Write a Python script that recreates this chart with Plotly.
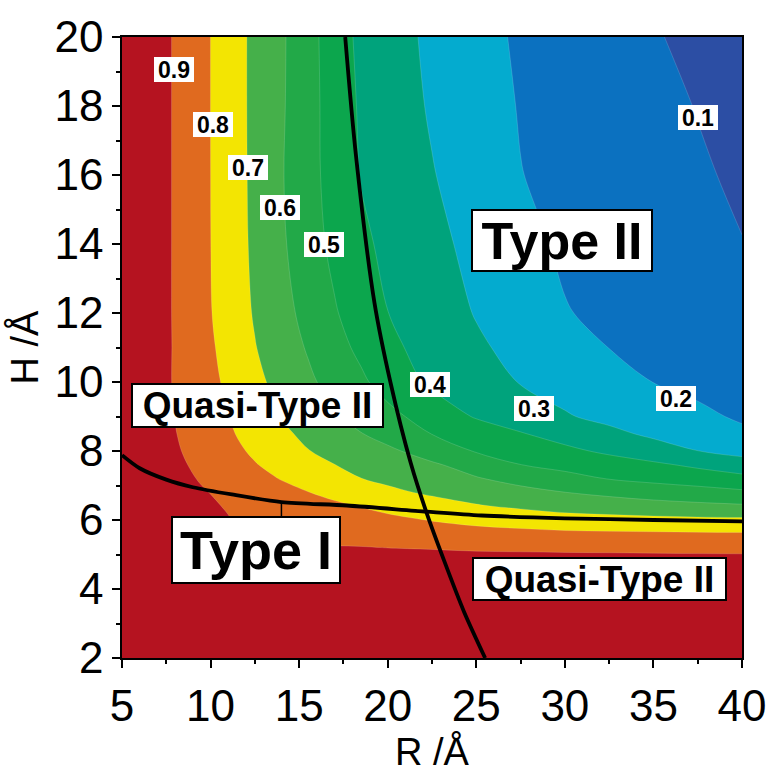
import plotly.graph_objects as go

# ---------------- data ----------------
R_vals = [5, 6.5, 8, 9.5, 11, 12.5, 14, 15.5, 17, 18.5, 20, 22.5, 25, 27.5, 30, 32.5, 35, 37.5, 40]
H_vals = [2, 4, 4.8, 5.2, 5.6, 6.0, 6.4, 6.8, 7.2, 7.6, 8, 8.5, 9, 10, 11, 12, 14, 16, 18, 20]

z_H2   = [0.98, 0.98, 0.97, 0.97, 0.97, 0.97, 0.97, 0.97, 0.96, 0.96, 0.96, 0.96, 0.96, 0.96, 0.96, 0.96, 0.96, 0.96, 0.96]
z_H4   = [0.98, 0.97, 0.97, 0.96, 0.96, 0.96, 0.96, 0.95, 0.95, 0.95, 0.95, 0.95, 0.95, 0.95, 0.95, 0.95, 0.95, 0.95, 0.95]
z_H48  = [0.98, 0.97, 0.96, 0.955, 0.95, 0.94, 0.93, 0.93, 0.93, 0.935, 0.94, 0.938, 0.937, 0.936, 0.935, 0.935, 0.935, 0.935, 0.935]
z_H52  = [0.98, 0.96, 0.95, 0.94, 0.93, 0.915, 0.906, 0.905, 0.904, 0.903, 0.899, 0.894, 0.887, 0.884, 0.881, 0.879, 0.876, 0.873, 0.871]
z_H56  = [0.98, 0.965, 0.945, 0.93, 0.915, 0.898, 0.884, 0.877, 0.874, 0.867, 0.86, 0.844, 0.833, 0.826, 0.819, 0.815, 0.813, 0.81, 0.808]
z_H60  = [0.98, 0.945, 0.93, 0.917, 0.903, 0.877, 0.863, 0.853, 0.844, 0.833, 0.82, 0.796, 0.775, 0.758, 0.739, 0.733, 0.726, 0.721, 0.719]
z_H64  = [0.98, 0.953, 0.934, 0.914, 0.895, 0.875, 0.856, 0.836, 0.817, 0.797, 0.776, 0.742, 0.708, 0.686, 0.665, 0.649, 0.637, 0.624, 0.614]
z_H68  = [0.98, 0.96, 0.933, 0.907, 0.881, 0.854, 0.828, 0.802, 0.775, 0.748, 0.721, 0.685, 0.657, 0.628, 0.601, 0.579, 0.555, 0.538, 0.517]
z_H72  = [0.98, 0.959, 0.926, 0.893, 0.861, 0.828, 0.796, 0.764, 0.732, 0.701, 0.679, 0.643, 0.607, 0.569, 0.531, 0.496, 0.474, 0.453, 0.431]
z_H76  = [0.98, 0.955, 0.918, 0.88, 0.843, 0.805, 0.77, 0.735, 0.701, 0.676, 0.652, 0.613, 0.56, 0.501, 0.472, 0.444, 0.417, 0.382, 0.338]
z_H80  = [0.98, 0.951, 0.91, 0.868, 0.827, 0.786, 0.744, 0.703, 0.674, 0.646, 0.619, 0.557, 0.493, 0.457, 0.421, 0.383, 0.342, 0.301, 0.274]
z_H85  = [0.98, 0.948, 0.903, 0.858, 0.812, 0.766, 0.719, 0.678, 0.64, 0.603, 0.563, 0.498, 0.452, 0.406, 0.363, 0.322, 0.283, 0.249, 0.214]
z_H90  = [0.98, 0.946, 0.898, 0.851, 0.803, 0.75, 0.697, 0.654, 0.611, 0.569, 0.528, 0.457, 0.392, 0.35, 0.308, 0.276, 0.246, 0.216, 0.19]
z_H10  = [0.98, 0.946, 0.893, 0.839, 0.784, 0.724, 0.669, 0.617, 0.567, 0.517, 0.46, 0.382, 0.339, 0.296, 0.264, 0.231, 0.199, 0.18, 0.161]
z_H11  = [0.98, 0.957, 0.892, 0.832, 0.77, 0.704, 0.648, 0.592, 0.535, 0.478, 0.422, 0.363, 0.314, 0.273, 0.235, 0.199, 0.181, 0.163, 0.145]
z_H12  = [0.98, 0.957, 0.891, 0.826, 0.759, 0.692, 0.632, 0.571, 0.508, 0.454, 0.401, 0.347, 0.295, 0.249, 0.204, 0.184, 0.166, 0.148, 0.13]
z_H14  = [0.98, 0.957, 0.891, 0.824, 0.754, 0.682, 0.614, 0.543, 0.477, 0.419, 0.379, 0.326, 0.273, 0.222, 0.188, 0.167, 0.145, 0.124, 0.102]
z_H16  = [0.98, 0.957, 0.891, 0.824, 0.752, 0.679, 0.607, 0.534, 0.462, 0.395, 0.361, 0.305, 0.253, 0.202, 0.178, 0.155, 0.133, 0.11, 0.087]
z_H18  = [0.98, 0.957, 0.891, 0.824, 0.751, 0.678, 0.611, 0.536, 0.456, 0.388, 0.35, 0.29, 0.24, 0.195, 0.171, 0.146, 0.122, 0.097, 0.073]
z_H20  = [0.98, 0.957, 0.891, 0.824, 0.751, 0.678, 0.613, 0.537, 0.447, 0.379, 0.341, 0.281, 0.229, 0.188, 0.161, 0.134, 0.107, 0.079, 0.052]

Z = [z_H2, z_H4, z_H48, z_H52, z_H56, z_H60, z_H64, z_H68, z_H72, z_H76, z_H80,
     z_H85, z_H90, z_H10, z_H11, z_H12, z_H14, z_H16, z_H18, z_H20]

# boundary lines (black)
sepA_R = [17.6, 18.2, 19.25, 20.15, 21.3, 22.2, 23.2, 24.3, 25.5]
sepA_H = [20.0, 16.6, 12.3, 10.0, 7.65, 6.2, 4.8, 3.35, 2.0]
sepB_R = [5, 6, 7.5, 9, 11.2, 14, 17.7, 22.2, 25.3, 30, 35, 40]
sepB_H = [7.88, 7.5, 7.17, 6.95, 6.74, 6.52, 6.42, 6.24, 6.13, 6.05, 6.0, 5.96]
tickmark_R = [14, 14]
tickmark_H = [6.55, 6.08]

# contour level labels
lvl_text = ["0.9", "0.8", "0.7", "0.6", "0.5", "0.4", "0.3", "0.2", "0.1"]
lvl_R = [7.96, 10.14, 12.1, 13.92, 16.4, 22.36, 28.25, 36.25, 37.53]
lvl_H = [19.07, 17.46, 16.22, 15.05, 13.98, 9.94, 9.22, 9.51, 17.67]

# region labels
reg_text = ["Quasi-Type II", "Type I", "Type II", "Quasi-Type II"]
reg_R = [12.63, 12.55, 29.82, 31.97]
reg_H = [9.31, 5.13, 14.1, 4.30]

x_ticks = [5, 10, 15, 20, 25, 30, 35, 40]
y_ticks = [2, 4, 6, 8, 10, 12, 14, 16, 18, 20]

# ---------------- styling ----------------
band_colors = ['#2c4ea4', '#0b71c0', '#04abcf', '#00a37c', '#0ca64d',
               '#22a948', '#45b04a', '#f3e502', '#e06a1f', '#b51320']
cscale = []
for i, c in enumerate(band_colors):
    cscale.append([i / 10, c])
    cscale.append([(i + 1) / 10, c])

FONT = "Liberation Sans"

fig = go.Figure()
fig.add_trace(go.Contour(
    x=R_vals, y=H_vals, z=Z,
    zmin=0, zmax=1, colorscale=cscale, showscale=False,
    contours=dict(start=0.1, end=0.9, size=0.1, coloring='fill', showlines=True),
    line=dict(width=0.6, color='rgba(255,255,255,0.25)', smoothing=1.0),
    hoverinfo='skip'))

for rr, hh, w in [(sepA_R, sepA_H, 3.8), (sepB_R, sepB_H, 3.8), (tickmark_R, tickmark_H, 1.5)]:
    fig.add_trace(go.Scatter(x=rr, y=hh, mode='lines',
                             line=dict(color='black', width=w, shape='spline', smoothing=0.8),
                             showlegend=False, hoverinfo='skip'))

annos = []
for t, r, h in zip(lvl_text, lvl_R, lvl_H):
    annos.append(dict(x=r, y=h, xref='x', yref='y', text="<b>%s</b>" % t, showarrow=False,
                      font=dict(family=FONT, size=23, color='black'),
                      bgcolor='white', borderpad=0, borderwidth=0, width=40, height=25))
reg_sizes = [(37, 249, 41), (54, 166, 64), (52, 178, 59), (37, 251, 40)]
for (t, r, h), (fs, w, hgt) in zip(zip(reg_text, reg_R, reg_H), reg_sizes):
    annos.append(dict(x=r, y=h, xref='x', yref='y', text="<b>%s</b>" % t, showarrow=False,
                      font=dict(family=FONT, size=fs, color='black'),
                      bgcolor='white', bordercolor='black', borderwidth=2, borderpad=0,
                      width=w, height=hgt))

fig.update_layout(
    width=778, height=774,
    margin=dict(l=122, r=30, t=33, b=114),
    paper_bgcolor='white', plot_bgcolor='white',
    font=dict(family=FONT, color='black'),
    showlegend=False,
    annotations=annos,
    xaxis=dict(range=[5, 40], tickvals=x_ticks, ticks='outside', ticklen=8, tickwidth=1.5,
               tickcolor='black', showline=True, linecolor='black', linewidth=1.5, mirror=True,
               showgrid=False, zeroline=False, tickfont=dict(size=44, family=FONT),
               minor=dict(tick0=5, dtick=2.5, ticks='outside', ticklen=4, tickcolor='black', showgrid=False),
               title=dict(text="R /Å", font=dict(size=38, family=FONT), standoff=6)),
    yaxis=dict(range=[2, 20], tickvals=y_ticks, ticks='outside', ticklen=8, tickwidth=1.5,
               tickcolor='black', showline=True, linecolor='black', linewidth=1.5, mirror=True,
               showgrid=False, zeroline=False, tickfont=dict(size=44, family=FONT),
               minor=dict(tick0=2, dtick=1, ticks='outside', ticklen=4, tickcolor='black', showgrid=False),
               title=dict(text="H /Å", font=dict(size=38, family=FONT), standoff=4)),
)

fig.write_html("out.html")
